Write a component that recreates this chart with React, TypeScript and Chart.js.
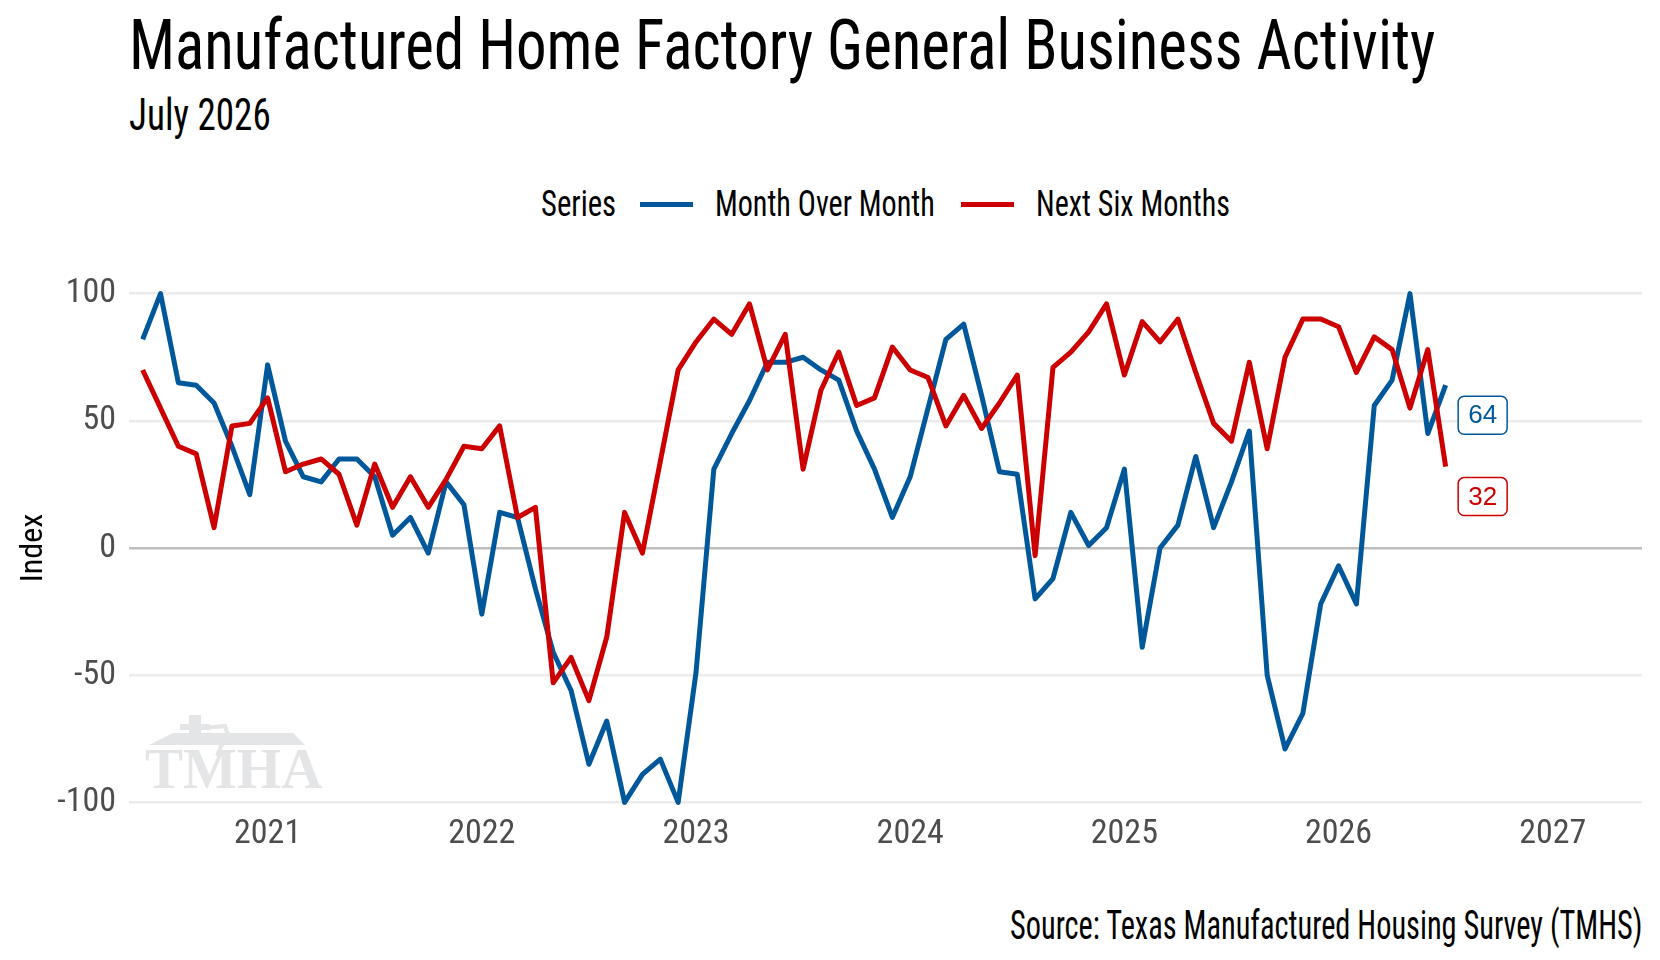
import React, { useEffect, useLayoutEffect, useRef } from 'react';
import { Chart, registerables } from 'chart.js';

Chart.register(...registerables);

// Survey months start in June 2020, one value per month
const START_YEAR = 2020;
const START_MONTH = 6;

const monthOverMonth = [
  82, 100, 65, 64, 57, 40, 21,
  72, 42, 28, 26, 35, 35, 28, 5, 12, -2, 26, 17,
  -26, 14, 12, -16, -41, -56, -85, -68, -100, -89, -83, -100,
  -49, 31, 45, 58, 73, 73, 75, 70, 66, 46, 31, 12,
  28, 55, 82, 88, 60, 30, 29, -20, -12, 14, 1, 8,
  31, -39, 0, 9, 36, 8, 26, 46, -50, -79, -65, -22,
  -7, -22, 56, 66, 100, 45, 64,
];

const nextSixMonths = [
  70, 55, 40, 37, 8, 48, 49,
  59, 30, 33, 35, 29, 9, 33, 16, 28, 16, 27, 40,
  39, 48, 12, 16, -53, -43, -60, -35, 14, -2, 34, 70,
  81, 90, 84, 96, 70, 84, 31, 62, 77, 56, 59, 79,
  70, 67, 48, 60, 47, 57, 68, -3, 71, 77, 85, 96,
  68, 89, 81, 90, 69, 49, 42, 73, 39, 75, 90, 90,
  87, 69, 83, 78, 55, 78, 32,
];

const yearTicks = [2021, 2022, 2023, 2024, 2025, 2026, 2027];
const indexTicks = [-100, -50, 0, 50, 100];

// decimal year of each survey month
const months = monthOverMonth.map((_, i) => START_YEAR + (START_MONTH - 1 + i) / 12);

const BLUE = '#00589b';
const RED = '#cc0000';
const COND = "'Roboto Condensed', 'Liberation Sans Narrow', 'DejaVu Sans Condensed', Roboto, sans-serif";

// light TMHA watermark in the lower left corner of the panel
const watermark = {
  id: 'tmhaMark',
  beforeDatasetsDraw(chart: Chart) {
    const { ctx, chartArea: a } = chart;
    const x0 = a.left + 16;
    const base = a.bottom - 22;
    ctx.save();
    ctx.fillStyle = '#e4e5e7';
    ctx.strokeStyle = '#e4e5e7';
    // roof
    ctx.beginPath();
    ctx.moveTo(x0 + 28, base - 55);
    ctx.lineTo(x0 + 148, base - 55);
    ctx.lineTo(x0 + 160, base - 43);
    ctx.lineTo(x0 + 4, base - 43);
    ctx.closePath();
    ctx.fill();
    // cross and state outline
    ctx.fillRect(x0 + 44, base - 73, 12, 20);
    ctx.fillRect(x0 + 35, base - 64, 30, 6);
    ctx.lineWidth = 4;
    ctx.beginPath();
    ctx.moveTo(x0 + 58, base - 60);
    ctx.lineTo(x0 + 80, base - 62);
    ctx.lineTo(x0 + 84, base - 50);
    ctx.lineTo(x0 + 76, base - 42);
    ctx.lineTo(x0 + 72, base - 32);
    ctx.stroke();
    ctx.font = "bold 57px 'Liberation Serif', 'DejaVu Serif', serif";
    ctx.textBaseline = 'alphabetic';
    ctx.fillText('TMHA', x0, base);
    ctx.restore();
  },
};

// boxed value labels next to the last point of each series
const endLabels = {
  id: 'endLabels',
  afterDatasetsDraw(chart: Chart) {
    const { ctx } = chart;
    chart.data.datasets.forEach((ds: any, i: number) => {
      const meta = chart.getDatasetMeta(i);
      const pt = meta.data[meta.data.length - 1];
      const last = ds.data[ds.data.length - 1].y;
      const cx = pt.x + 37;
      const cy = pt.y + 30;
      ctx.save();
      ctx.beginPath();
      ctx.roundRect(cx - 24.5, cy - 19, 49, 38, 6);
      ctx.fillStyle = '#fff';
      ctx.fill();
      ctx.lineWidth = 1.5;
      ctx.strokeStyle = ds.borderColor;
      ctx.stroke();
      ctx.fillStyle = ds.borderColor;
      ctx.font = "26px 'Liberation Sans', Arial, sans-serif";
      ctx.textAlign = 'center';
      ctx.textBaseline = 'middle';
      ctx.fillText(String(last), cx, cy + 1);
      ctx.restore();
    });
  },
};

function FitText({ text, left, baseline, size, width, color = '#000' }: any) {
  const ref = useRef<HTMLSpanElement>(null);
  useLayoutEffect(() => {
    const el = ref.current;
    if (!el) return;
    el.style.transform = 'none';
    const w = el.offsetWidth;
    if (w > 0) el.style.transform = `scaleX(${width / w})`;
  }, [text, width, size]);
  return (
    <span
      ref={ref}
      style={{
        position: 'absolute',
        left,
        top: baseline - 0.842 * size,
        fontSize: size,
        lineHeight: 1,
        fontFamily: COND,
        color,
        whiteSpace: 'nowrap',
        transformOrigin: 'left top',
      }}
    >
      {text}
    </span>
  );
}

function LegendLine({ left, color }: { left: number; color: string }) {
  return <div style={{ position: 'absolute', left, top: 202, width: 53, height: 5, background: color }} />;
}

function App() {
  const chartRef = useRef<HTMLCanvasElement>(null);
  const chartInstance = useRef<Chart>();

  useEffect(() => {
    document.body.style.margin = '0';
    if (!chartRef.current) return;
    if (chartInstance.current) chartInstance.current.destroy();

    chartInstance.current = new Chart(chartRef.current, {
      type: 'line',
      data: {
        datasets: [
          {
            label: 'Month Over Month',
            data: months.map((x, i) => ({ x, y: monthOverMonth[i] })),
            borderColor: BLUE,
            borderWidth: 5,
            pointRadius: 0,
            borderJoinStyle: 'round',
            order: 1,
          },
          {
            label: 'Next Six Months',
            data: months.map((x, i) => ({ x, y: nextSixMonths[i] })),
            borderColor: RED,
            borderWidth: 5,
            pointRadius: 0,
            borderJoinStyle: 'round',
            order: 0,
          },
        ],
      },
      options: {
        animation: false,
        responsive: true,
        maintainAspectRatio: false,
        layout: { padding: { top: 36, right: 18, left: 0, bottom: 0 } },
        plugins: { legend: { display: false }, tooltip: { enabled: false } },
        scales: {
          x: {
            type: 'linear',
            min: 2020.3528,
            max: 2027.4167,
            afterBuildTicks: (s: any) => {
              s.ticks = yearTicks.map((v) => ({ value: v }));
            },
            afterFit: (s: any) => {
              s.height = 60;
            },
            grid: { display: false, drawTicks: false },
            border: { display: false },
            ticks: {
              color: '#4d4d4d',
              font: { family: COND, size: 34 },
              padding: 4,
              autoSkip: false,
              maxRotation: 0,
              callback: (v: any) => String(v),
            },
          },
          y: {
            min: -103,
            max: 103,
            afterBuildTicks: (s: any) => {
              s.ticks = indexTicks.map((v) => ({ value: v }));
            },
            afterFit: (s: any) => {
              s.width = 129;
            },
            grid: {
              color: (c: any) => (c.tick && c.tick.value === 0 ? '#bebebe' : '#ebebeb'),
              lineWidth: 2.5,
              drawTicks: false,
            },
            border: { display: false },
            ticks: { color: '#4d4d4d', font: { family: COND, size: 34 }, padding: 13 },
            title: {
              display: true,
              text: 'Index',
              color: '#000',
              font: { family: COND, size: 32 },
              padding: { top: 15 },
            },
          },
        },
      },
      plugins: [watermark, endLabels],
    });

    return () => {
      if (chartInstance.current) {
        chartInstance.current.destroy();
        chartInstance.current = undefined;
      }
    };
  }, []);

  return (
    <div style={{ position: 'relative', width: 1660, height: 960, background: '#fff', overflow: 'hidden' }}>
      <FitText text="Manufactured Home Factory General Business Activity" left={129} baseline={69} size={70} width={1306} />
      <FitText text="July 2026" left={129} baseline={130} size={45} width={142} />

      <FitText text="Series" left={541} baseline={216} size={36} width={75} />
      <LegendLine left={640} color={BLUE} />
      <FitText text="Month Over Month" left={715} baseline={216} size={36} width={220} />
      <LegendLine left={961} color={RED} />
      <FitText text="Next Six Months" left={1036} baseline={216} size={36} width={194} />

      <div style={{ position: 'absolute', left: 0, top: 250, width: 1660, height: 620 }}>
        <canvas ref={chartRef}></canvas>
      </div>

      <FitText text="Source: Texas Manufactured Housing Survey (TMHS)" left={1010} baseline={940} size={40} width={632} />
    </div>
  );
}

export default App;
